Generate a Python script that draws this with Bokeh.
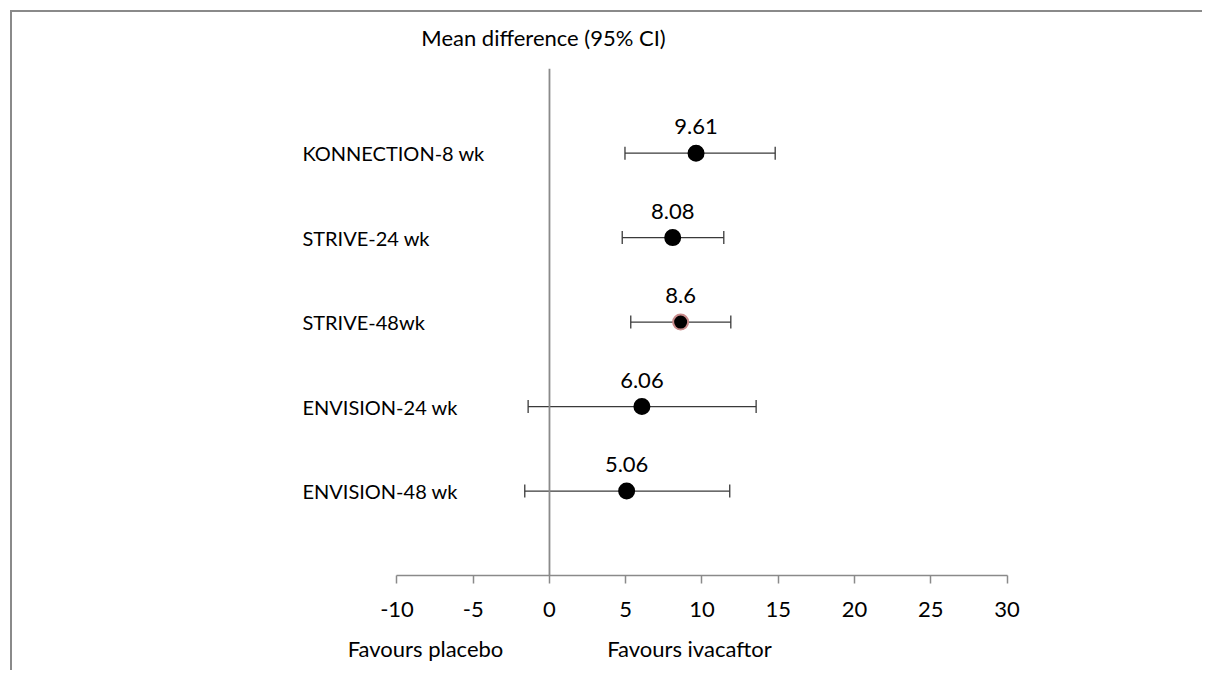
from bokeh.plotting import figure
from bokeh.models import ColumnDataSource, LinearAxis, FixedTicker, Whisker, TeeHead, Range1d
from bokeh.core.properties import value
from bokeh.embed import file_html
from bokeh.resources import INLINE

# ---- data ----
studies = ["KONNECTION-8 wk", "STRIVE-24 wk", "STRIVE-48wk", "ENVISION-24 wk", "ENVISION-48 wk"]
mean_diff = [9.61, 8.08, 8.6, 6.06, 5.06]
ci_lower = [4.95, 4.77, 5.33, -1.40, -1.62]
ci_upper = [14.80, 11.43, 11.89, 13.55, 11.82]
value_labels = ["9.61", "8.08", "8.6", "6.06", "5.06"]
x_ticks = [-10, -5, 0, 5, 10, 15, 20, 25, 30]
x_tick_labels = ["-10", "-5", "0", "5", "10", "15", "20", "25", "30"]
favour_labels = ["Favours placebo", "Favours  ivacaftor"]
title_text = "Mean difference (95% CI)"

FONT = value("Lato")
GRAY = "#8a8a8a"

n = len(studies)
rows = [n - i for i in range(n)]
outline = ["black"] * n
outline[2] = "#c88a8a"

src = ColumnDataSource(dict(y=rows, x=mean_diff, lower=ci_lower, upper=ci_upper,
                            study=studies, vlab=value_labels, oc=outline,
                            ylab=[r + 0.31 for r in rows]))

p = figure(width=1192, height=660, output_backend="svg", toolbar_location=None,
           x_axis_type=None, y_axis_type=None,
           x_range=Range1d(-35.21, 42.95), y_range=Range1d(0, 6.665),
           min_border_left=0, min_border_right=0, min_border_top=0, min_border_bottom=97)
p.outline_line_color = None
p.margin = (10, 0, 0, 10)
p.styles = {"border-top": f"2px solid {GRAY}", "border-left": f"2px solid {GRAY}"}

# main x axis
ax = LinearAxis(ticker=FixedTicker(ticks=x_ticks), bounds=(-10, 30),
                major_label_overrides=dict(zip(x_ticks, x_tick_labels)))
ax.axis_line_color = GRAY
ax.axis_line_width = 1.5
ax.major_tick_line_color = GRAY
ax.major_tick_line_width = 1.5
ax.major_tick_out = 8
ax.major_tick_in = 0
ax.minor_tick_line_color = None
ax.major_label_text_font = "Lato"
ax.major_label_text_font_size = "22px"
ax.major_label_text_color = "black"
ax.major_label_standoff = 18
p.add_layout(ax, "below")

# favours axis
fav_pos = [-8.13, 9.36]
ax2 = LinearAxis(ticker=FixedTicker(ticks=fav_pos),
                 major_label_overrides={fav_pos[0]: favour_labels[0], fav_pos[1]: favour_labels[1]})
ax2.axis_line_color = None
ax2.major_tick_line_color = None
ax2.minor_tick_line_color = None
ax2.major_tick_out = 0
ax2.major_tick_in = 0
ax2.major_label_text_font = "Lato"
ax2.major_label_text_font_size = "22px"
ax2.major_label_text_color = "black"
ax2.major_label_standoff = 15
p.add_layout(ax2, "below")

# zero reference line
p.segment(x0=[0], y0=[0], x1=[0], y1=[6.0], line_color=GRAY, line_width=1.8)

# error bars
wh = Whisker(base="y", lower="lower", upper="upper", dimension="width", source=src,
             line_color="#3a3a3a", line_width=1.3, level="underlay",
             upper_head=TeeHead(size=13, line_color="#3a3a3a", line_width=1.3),
             lower_head=TeeHead(size=13, line_color="#3a3a3a", line_width=1.3))
p.add_layout(wh)

p.scatter(x="x", y="y", source=src, size=15, fill_color="black", line_color="oc", line_width=2)

# value labels
p.text(x="x", y="ylab", text="vlab", source=src, text_font=FONT, text_font_size="22px",
       text_align="center", text_baseline="middle", text_color="black")

# study labels
p.text(x=-16.2, y="y", text="study", source=src, text_font=FONT, text_font_size="20px",
       text_align="left", text_baseline="middle", text_color="black")

# title
p.text(x=[-0.39], y=[6.37], text=[title_text], text_font=FONT, text_font_size="22px",
       text_align="center", text_baseline="middle", text_color="black")

open("out.html", "w").write(file_html(p, INLINE))
